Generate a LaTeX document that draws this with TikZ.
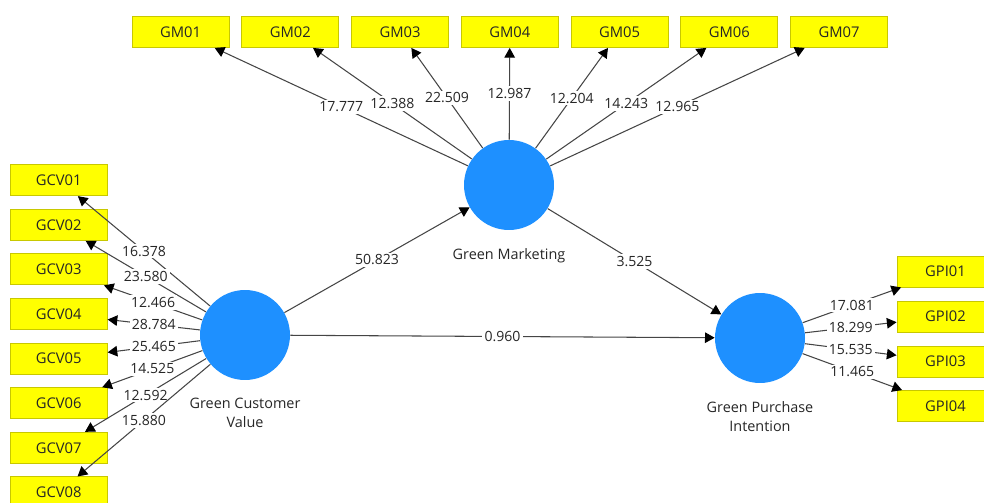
\documentclass[tikz,border=0pt]{standalone}
\usepackage{fontspec}
\setmainfont{Open Sans}
\usepackage{tikz}
\usetikzlibrary{arrows.meta,positioning}
\definecolor{kutuSari}{HTML}{FFFF00}
\definecolor{kenarSari}{HTML}{C8C800}
\definecolor{daireMavi}{HTML}{1E90FF}
\definecolor{okGri}{HTML}{454545}
\definecolor{yaziKoyu}{HTML}{262626}

\begin{document}
\begin{tikzpicture}[x=0.02cm,y=-0.02cm,
  kutu/.style={draw=kenarSari,fill=kutuSari,line width=0.5pt,minimum width=1.94cm,minimum height=0.62cm,inner sep=0pt,text=yaziKoyu,font=\fontsize{8.4}{10}\selectfont},
  daire/.style={circle,fill=daireMavi,minimum size=1.8cm,inner sep=0pt},
  daireYazi/.style={align=center,text=yaziKoyu,font=\fontsize{8.2}{10.8}\selectfont,inner sep=0pt},
  ok/.style={draw=okGri,line width=0.6pt,-{Triangle[length=5.5pt,width=6pt,color=black]}},
  deger/.style={midway,fill=white,inner sep=1.2pt,text=yaziKoyu,font=\fontsize{8}{9.6}\selectfont}]
\useasboundingbox (0,0) rectangle (984,503);
\clip (0,0) rectangle (984,503);
% Gizil degiskenler
\node[daire] (gcv) at (245,335) {};
\node[daire] (gm) at (509,185) {};
\node[daire] (gpi) at (760,338) {};
\node[daireYazi,below=10pt of gcv] (gcvYazi) {Green Customer\\Value};
\node[daireYazi,below=10pt of gm] (gmYazi) {Green Marketing};
\node[daireYazi,below=10pt of gpi] (gpiYazi) {Green Purchase\\Intention};
% Green Marketing gostergeleri
\node[kutu] (gm01) at (180.5,32) {GM01};
\node[kutu] (gm02) at (290.3,32) {GM02};
\node[kutu] (gm03) at (400,32) {GM03};
\node[kutu] (gm04) at (509.8,32) {GM04};
\node[kutu] (gm05) at (619.5,32) {GM05};
\node[kutu] (gm06) at (729.3,32) {GM06};
\node[kutu] (gm07) at (839,32) {GM07};
% Green Customer Value gostergeleri
\node[kutu] (gcv01) at (58.7,180.2) {GCV01};
\node[kutu] (gcv02) at (58.7,224.8) {GCV02};
\node[kutu] (gcv03) at (58.7,269.4) {GCV03};
\node[kutu] (gcv04) at (58.7,314) {GCV04};
\node[kutu] (gcv05) at (58.7,358.6) {GCV05};
\node[kutu] (gcv06) at (58.7,403.2) {GCV06};
\node[kutu] (gcv07) at (58.7,447.8) {GCV07};
\node[kutu] (gcv08) at (58.7,492.4) {GCV08};
% Green Purchase Intention gostergeleri
\node[kutu] (gpi01) at (945.5,271.5) {GPI01};
\node[kutu] (gpi02) at (945.5,316.5) {GPI02};
\node[kutu] (gpi03) at (945.5,361.5) {GPI03};
\node[kutu] (gpi04) at (945.5,406) {GPI04};
% Yol katsayilari
\draw[ok] (gcv) -- (gm) node[deger]{50.823};
\draw[ok] (gm) -- (gpi) node[deger]{3.525};
\draw[ok] (gcv) -- (gpi) node[deger]{0.960};
% Yuklemeler
\draw[ok] (gm) -- (gm01) node[deger]{17.777};
\draw[ok] (gm) -- (gm02) node[deger]{12.388};
\draw[ok] (gm) -- (gm03) node[deger]{22.509};
\draw[ok] (gm) -- (gm04) node[deger]{12.987};
\draw[ok] (gm) -- (gm05) node[deger]{12.204};
\draw[ok] (gm) -- (gm06) node[deger]{14.243};
\draw[ok] (gm) -- (gm07) node[deger]{12.965};
\draw[ok] (gcv) -- (gcv01) node[deger]{16.378};
\draw[ok] (gcv) -- (gcv02) node[deger]{23.580};
\draw[ok] (gcv) -- (gcv03) node[deger]{12.466};
\draw[ok] (gcv) -- (gcv04) node[deger]{28.784};
\draw[ok] (gcv) -- (gcv05) node[deger]{25.465};
\draw[ok] (gcv) -- (gcv06) node[deger]{14.525};
\draw[ok] (gcv) -- (gcv07) node[deger]{12.592};
\draw[ok] (gcv) -- (gcv08) node[deger]{15.880};
\draw[ok] (gpi) -- (gpi01) node[deger]{17.081};
\draw[ok] (gpi) -- (gpi02) node[deger]{18.299};
\draw[ok] (gpi) -- (gpi03) node[deger]{15.535};
\draw[ok] (gpi) -- (gpi04) node[deger]{11.465};
\end{tikzpicture}
\end{document}
